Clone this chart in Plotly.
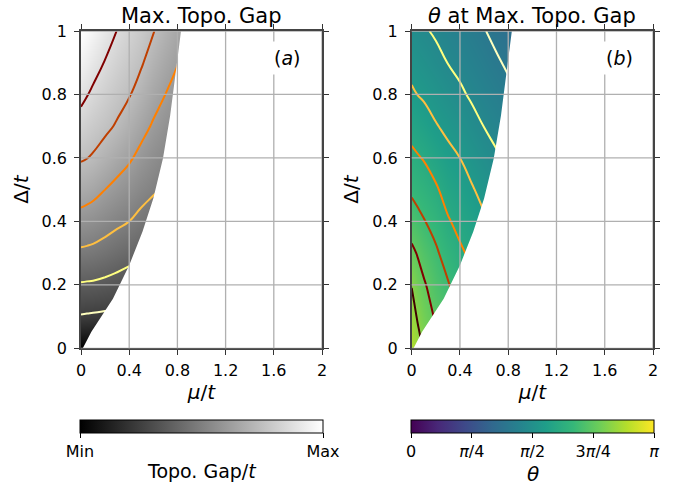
import plotly.graph_objects as go

# ---- data ----
mu = [0, 0.05, 0.1, 0.2, 0.3, 0.4, 0.5, 0.6, 0.7, 0.8, 0.9]
delta = [0, 0.05, 0.1, 0.15, 0.2, 0.3, 0.4, 0.5, 0.6, 0.7, 0.8, 0.9, 1.0]

# normalised maximal topological gap (rows = delta, cols = mu)
gap = [
    [0.000, 0.000, 0.000, 0.000, 0.000, 0.000, 0.000, 0.000, 0.000, 0.000, 0.000],
    [0.130, 0.127, 0.122, 0.115, 0.110, 0.105, 0.100, 0.100, 0.100, 0.100, 0.100],
    [0.232, 0.228, 0.225, 0.218, 0.210, 0.200, 0.190, 0.190, 0.190, 0.190, 0.185],
    [0.293, 0.291, 0.289, 0.281, 0.273, 0.265, 0.256, 0.251, 0.246, 0.243, 0.240],
    [0.351, 0.348, 0.346, 0.336, 0.323, 0.309, 0.297, 0.286, 0.278, 0.271, 0.265],
    [0.462, 0.458, 0.453, 0.436, 0.416, 0.396, 0.375, 0.356, 0.341, 0.327, 0.315],
    [0.562, 0.554, 0.546, 0.523, 0.500, 0.480, 0.452, 0.427, 0.404, 0.383, 0.365],
    [0.650, 0.641, 0.630, 0.600, 0.573, 0.547, 0.516, 0.492, 0.467, 0.440, 0.415],
    [0.730, 0.722, 0.710, 0.677, 0.642, 0.612, 0.574, 0.541, 0.514, 0.491, 0.465],
    [0.800, 0.783, 0.768, 0.741, 0.710, 0.670, 0.629, 0.590, 0.557, 0.529, 0.503],
    [0.865, 0.844, 0.823, 0.788, 0.755, 0.726, 0.681, 0.636, 0.600, 0.566, 0.537],
    [0.921, 0.900, 0.878, 0.835, 0.797, 0.764, 0.729, 0.680, 0.640, 0.604, 0.570],
    [0.972, 0.953, 0.929, 0.882, 0.838, 0.802, 0.766, 0.724, 0.680, 0.640, 0.603],
]

# theta / pi at the maximal gap
theta = [
    [0.880, 0.845, 0.812, 0.765, 0.731, 0.701, 0.675, 0.648, 0.635, 0.613, 0.565],
    [0.865, 0.829, 0.798, 0.754, 0.720, 0.691, 0.662, 0.637, 0.622, 0.597, 0.555],
    [0.848, 0.813, 0.785, 0.742, 0.708, 0.680, 0.649, 0.626, 0.607, 0.581, 0.546],
    [0.833, 0.797, 0.772, 0.729, 0.696, 0.665, 0.636, 0.615, 0.592, 0.565, 0.536],
    [0.817, 0.780, 0.758, 0.716, 0.685, 0.650, 0.623, 0.602, 0.578, 0.550, 0.526],
    [0.765, 0.745, 0.723, 0.690, 0.652, 0.620, 0.597, 0.575, 0.549, 0.525, 0.507],
    [0.716, 0.699, 0.684, 0.656, 0.616, 0.592, 0.571, 0.548, 0.524, 0.504, 0.487],
    [0.668, 0.656, 0.645, 0.618, 0.586, 0.566, 0.545, 0.522, 0.500, 0.483, 0.468],
    [0.625, 0.615, 0.606, 0.581, 0.556, 0.540, 0.517, 0.495, 0.477, 0.461, 0.444],
    [0.586, 0.577, 0.567, 0.544, 0.527, 0.509, 0.488, 0.469, 0.454, 0.438, 0.420],
    [0.549, 0.539, 0.532, 0.515, 0.497, 0.479, 0.462, 0.447, 0.431, 0.414, 0.396],
    [0.519, 0.511, 0.504, 0.486, 0.469, 0.456, 0.441, 0.425, 0.408, 0.391, 0.373],
    [0.492, 0.484, 0.476, 0.463, 0.449, 0.435, 0.419, 0.403, 0.385, 0.368, 0.349],
]

# edge of the topological region (mu_max at given delta)
edge_delta = [0.0, 0.051, 0.11, 0.156, 0.262, 0.367, 0.472, 0.598, 0.734, 0.892, 1.0]
edge_mu = [0.015, 0.085, 0.185, 0.265, 0.40, 0.51, 0.60, 0.68, 0.74, 0.79, 0.83]

gap_levels = [0.24, 0.36, 0.48, 0.60, 0.72, 0.84]
gap_level_colors = ["#ffffbf", "#ffff80", "#ffbf40", "#ff8000", "#bf3f00", "#800000"]
theta_levels = [0.40, 0.47, 0.54, 0.61, 0.68, 0.75, 0.82]
theta_level_colors = ["#ffffbf", "#ffff80", "#ffbf40", "#ff8000", "#bf3f00", "#800000", "#400000"]

mu_ticks = [0, 0.4, 0.8, 1.2, 1.6, 2]
mu_ticklabels = ["0", "0.4", "0.8", "1.2", "1.6", "2"]
delta_ticks = [0, 0.2, 0.4, 0.6, 0.8, 1]
delta_ticklabels = ["0", "0.2", "0.4", "0.6", "0.8", "1"]
theta_ticks = [0, 0.25, 0.5, 0.75, 1]
theta_ticklabels = ["0", "<i>π</i>/4", "<i>π</i>/2", "3<i>π</i>/4", "<i>π</i>"]

FONT = "DejaVu Sans"
W, H = 688, 489
gmin = min(min(r) for r in gap)
gmax = max(max(r) for r in gap)

xdom1 = [81 / W, 322 / W]
xdom2 = [411.7 / W, 653 / W]
ydom = [1 - 348.3 / H, 1 - 31 / H]
cb1_x = (80 + 323) / 2 / W
cb2_x = (411 + 654) / 2 / W

fig = go.Figure()

panels = [
    dict(xa="x", ya="y", z=gap, cs=[[0, "black"], [1, "white"]], zmin=gmin, zmax=gmax,
         levels=gap_levels, lcolors=gap_level_colors,
         cb=dict(x=cb1_x, tickvals=[gmin, gmax], ticktext=["Min", "Max"])),
    dict(xa="x2", ya="y2", z=theta, cs="Viridis", zmin=0, zmax=1,
         levels=theta_levels, lcolors=theta_level_colors,
         cb=dict(x=cb2_x, tickvals=theta_ticks, ticktext=theta_ticklabels)),
]

for p in panels:
    fig.add_trace(go.Heatmap(
        x=mu, y=delta, z=p["z"], colorscale=p["cs"], zmin=p["zmin"], zmax=p["zmax"],
        zsmooth="best", xaxis=p["xa"], yaxis=p["ya"], hoverinfo="skip",
        colorbar=dict(
            orientation="h", x=p["cb"]["x"], xanchor="center",
            y=1 - 420 / H, yanchor="top", len=243, lenmode="pixels",
            thickness=13, outlinewidth=1, outlinecolor="black",
            xpad=0, ypad=0,
            tickvals=p["cb"]["tickvals"], ticktext=p["cb"]["ticktext"],
            ticks="outside", ticklen=5, tickcolor="black",
            tickfont=dict(family=FONT, size=16, color="black"),
        ),
    ))
    for lev, col in zip(p["levels"], p["lcolors"]):
        fig.add_trace(go.Contour(
            x=mu, y=delta, z=p["z"], autocontour=False,
            contours=dict(start=lev, end=lev, size=1, coloring="none"),
            line=dict(color=col, width=2, smoothing=1.3),
            showscale=False, hoverinfo="skip", xaxis=p["xa"], yaxis=p["ya"],
        ))
    # white outside the topological region
    fig.add_trace(go.Scatter(
        x=edge_mu + [mu_ticks[-1], mu_ticks[-1]],
        y=edge_delta + [edge_delta[-1], edge_delta[0]],
        mode="lines", fill="toself", fillcolor="white",
        line=dict(width=0, color="white"), hoverinfo="skip",
        showlegend=False, xaxis=p["xa"], yaxis=p["ya"],
    ))

shapes = []
for xa, ya in [("x", "y"), ("x2", "y2")]:
    for t in mu_ticks[1:]:
        shapes.append(dict(type="line", xref=xa, yref=ya + " domain", x0=t, x1=t, y0=0, y1=1,
                           line=dict(color="#b0b0b0", width=1.3), layer="above"))
    for t in delta_ticks:
        shapes.append(dict(type="line", xref=xa + " domain", yref=ya, x0=0, x1=1, y0=t, y1=t,
                           line=dict(color="#b0b0b0", width=1.3), layer="above"))

axis_common = dict(
    showgrid=False, zeroline=False, showline=True, linecolor="#444", linewidth=1.5,
    mirror="ticks", ticks="outside", ticklen=5, tickwidth=1.2, tickcolor="#333",
    tickfont=dict(family=FONT, size=16, color="black"), automargin=False,
)
xaxis_extra = dict(range=[0, 2], tickvals=mu_ticks, ticktext=mu_ticklabels, ticklabelstandoff=2,
                   title=dict(text="<i>μ</i>/<i>t</i>", font=dict(size=20), standoff=4))
yaxis_extra = dict(range=[0, 1], tickvals=delta_ticks, ticktext=delta_ticklabels, ticklabelstandoff=4,
                   title=dict(text="Δ/<i>t</i>", font=dict(size=20), standoff=8))

fig.update_layout(
    width=W, height=H, margin=dict(l=0, r=0, t=0, b=0, autoexpand=False),
    paper_bgcolor="white", plot_bgcolor="white", showlegend=False,
    font=dict(family=FONT, size=16, color="black"),
    xaxis=dict(domain=xdom1, anchor="y", **xaxis_extra, **axis_common),
    yaxis=dict(domain=ydom, anchor="x", **yaxis_extra, **axis_common),
    xaxis2=dict(domain=xdom2, anchor="y2", **xaxis_extra, **axis_common),
    yaxis2=dict(domain=ydom, anchor="x2", **yaxis_extra, **axis_common),
    shapes=shapes,
    annotations=[
        dict(text="Max. Topo. Gap", xref="paper", yref="paper", x=sum(xdom1) / 2, y=1 - 16 / H,
             xanchor="center", yanchor="middle", showarrow=False, font=dict(size=21)),
        dict(text="<i>θ</i> at Max. Topo. Gap", xref="paper", yref="paper", x=sum(xdom2) / 2, y=1 - 16 / H,
             xanchor="center", yanchor="middle", showarrow=False, font=dict(size=21)),
        dict(text="(<i>a</i>)", xref="x", yref="y", x=1.715, y=0.915, showarrow=False,
             font=dict(size=19), bgcolor="white", borderpad=5),
        dict(text="(<i>b</i>)", xref="x2", yref="y2", x=1.72, y=0.915, showarrow=False,
             font=dict(size=19), bgcolor="white", borderpad=5),
        dict(text="Topo. Gap/<i>t</i>", xref="paper", yref="paper", x=cb1_x, y=1 - 471 / H,
             xanchor="center", yanchor="middle", showarrow=False, font=dict(size=19)),
        dict(text="<i>θ</i>", xref="paper", yref="paper", x=cb2_x, y=1 - 474 / H,
             xanchor="center", yanchor="middle", showarrow=False, font=dict(size=20)),
    ],
)

fig.write_html("out.html")
